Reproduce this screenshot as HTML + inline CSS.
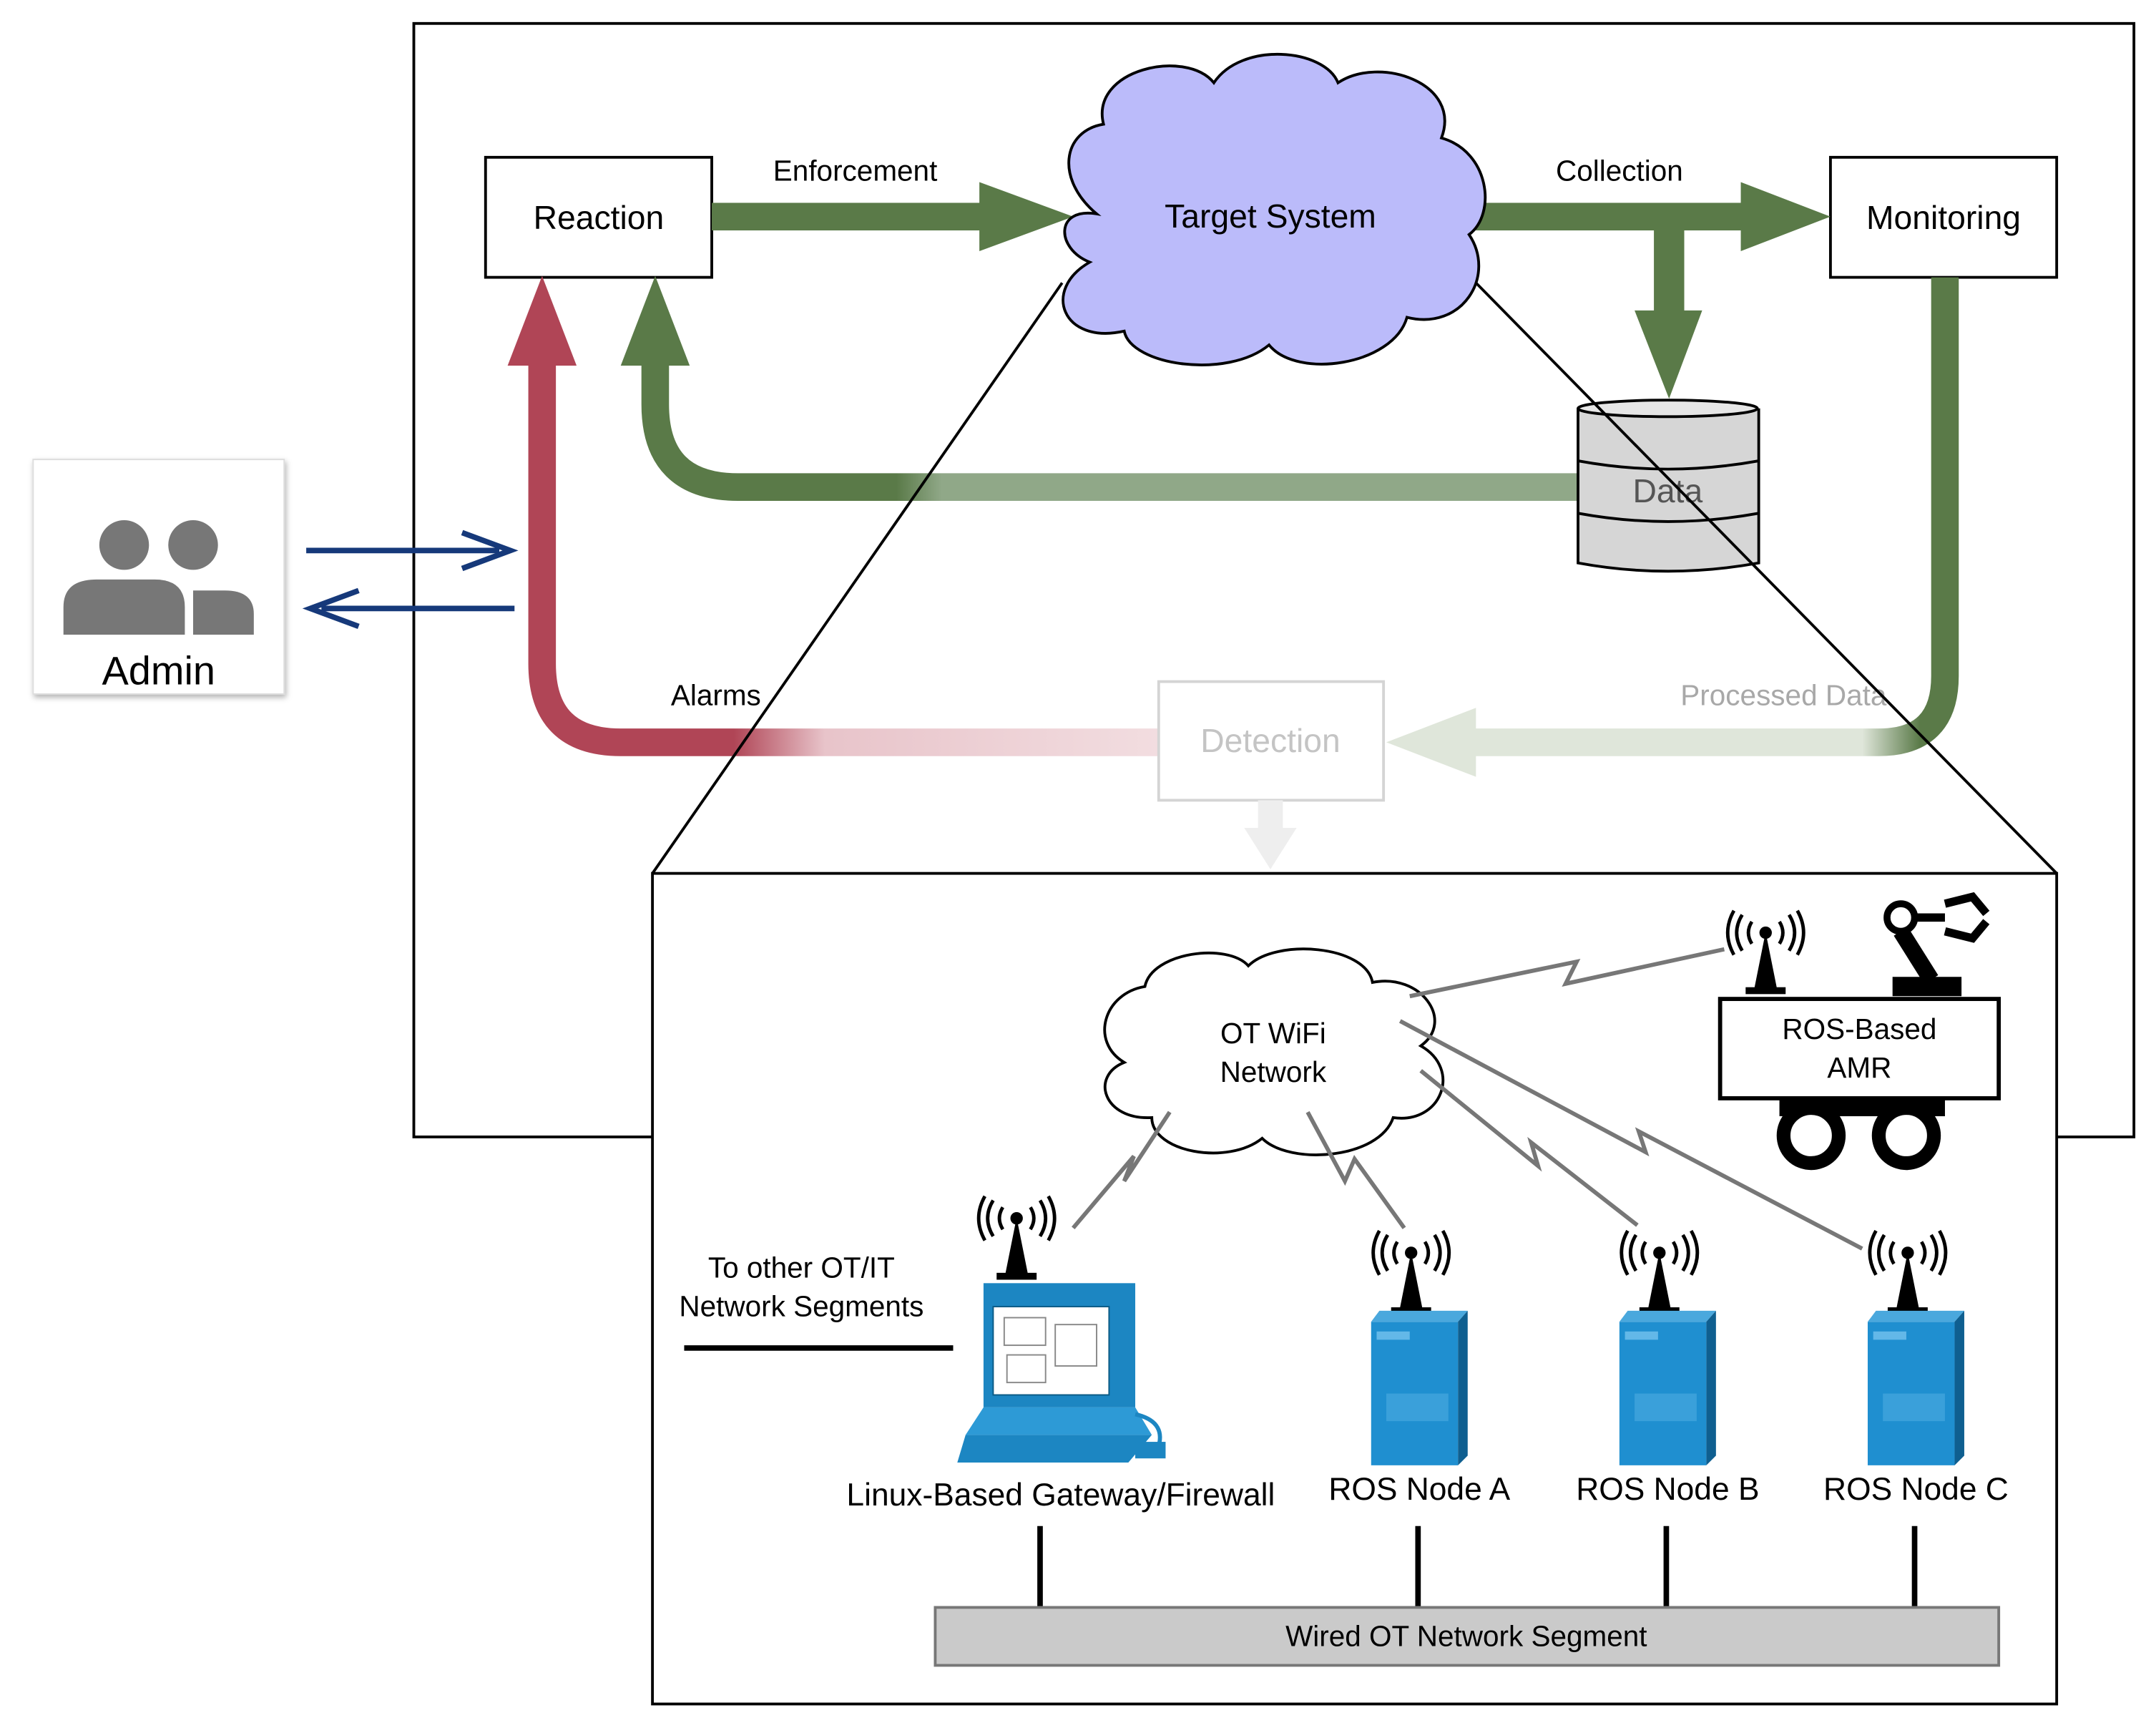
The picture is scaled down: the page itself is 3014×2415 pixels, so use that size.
<!DOCTYPE html>
<html><head><meta charset="utf-8"><style>html,body{margin:0;padding:0;background:#fff}svg{display:block}text{font-family:"Liberation Sans",sans-serif}</style></head><body>
<svg width="3014" height="2415" viewBox="0 0 1563 1252.4" preserveAspectRatio="none" xmlns="http://www.w3.org/2000/svg">
<defs>
<linearGradient id="gret" x1="485" y1="0" x2="1144" y2="0" gradientUnits="userSpaceOnUse"><stop offset="0.25" stop-color="#5a7a48"/><stop offset="0.3" stop-color="#90a888"/><stop offset="1" stop-color="#90a888"/></linearGradient>
<linearGradient id="gred" x1="400" y1="0" x2="840" y2="0" gradientUnits="userSpaceOnUse"><stop offset="0.3" stop-color="#b04556"/><stop offset="0.45" stop-color="#e8c4ca"/><stop offset="1" stop-color="#f2dde0"/></linearGradient>
<linearGradient id="gmon" x1="1070" y1="0" x2="1420" y2="0" gradientUnits="userSpaceOnUse"><stop offset="0" stop-color="#dfe6da"/><stop offset="0.8" stop-color="#dfe6da"/><stop offset="0.92" stop-color="#5a7a48"/></linearGradient>
<filter id="sh"><feDropShadow dx="1" dy="2" stdDeviation="2" flood-opacity="0.3"/></filter>
</defs>
<rect x="300" y="17" width="1247" height="807" fill="#fff" stroke="#000" stroke-width="2"/>
<!-- Reaction / Monitoring -->
<rect x="352" y="114" width="164" height="87" fill="#fff" stroke="#000" stroke-width="2"/>
<text x="434" y="166" font-size="24" text-anchor="middle">Reaction</text>
<rect x="1327" y="114" width="164" height="87" fill="#fff" stroke="#000" stroke-width="2"/>
<text x="1409" y="166" font-size="24" text-anchor="middle">Monitoring</text>
<!-- return green path -->
<path d="M1144 353 H535 Q475 353 475 293 V262" fill="none" stroke="url(#gret)" stroke-width="20"/>
<polygon points="450,265 500,265 475,200" fill="#5a7a48"/>
<!-- red path -->
<path d="M840 538 H450 Q393 538 393 481 V262" fill="none" stroke="url(#gred)" stroke-width="20"/>
<polygon points="368,265 418,265 393,200" fill="#b04556"/>
<!-- monitoring path -->
<path d="M1410 201 V490 Q1410 538 1362 538 H1068" fill="none" stroke="url(#gmon)" stroke-width="20"/>
<polygon points="1070,513 1070,563 1005,538" fill="#dfe6da"/>
<!-- Detection -->
<rect x="840" y="494" width="163" height="86" fill="#fff" stroke="#d4d4d4" stroke-width="2"/>
<text x="921" y="545" font-size="24" text-anchor="middle" fill="#c4c4c4">Detection</text>
<path d="M912 580 V600 H902 L921 630 L940 600 H930 V580Z" fill="#eeeeee"/>
<!-- enforcement / collection -->
<rect x="516" y="147" width="200" height="20" fill="#5a7a48"/>
<polygon points="710,132 710,182 778,157" fill="#5a7a48"/>
<rect x="1060" y="147" width="206" height="20" fill="#5a7a48"/>
<polygon points="1262,132 1262,182 1327,157" fill="#5a7a48"/>
<rect x="1199" y="157" width="22" height="72" fill="#5a7a48"/>
<polygon points="1185,225 1234,225 1210,289" fill="#5a7a48"/>
<text x="620" y="131" font-size="21" text-anchor="middle">Enforcement</text>
<text x="1174" y="131" font-size="21" text-anchor="middle">Collection</text>
<text x="519" y="511" font-size="21" text-anchor="middle">Alarms</text>
<text x="1293" y="511" font-size="21" text-anchor="middle" fill="#a8a8a8">Processed Data</text>
<!-- target cloud -->
<path d="M800 90 C790 50 860 35 880 60 C900 30 960 35 970 60 C1000 40 1060 60 1045 100 C1080 110 1085 155 1065 170 C1085 200 1060 240 1020 230 C1010 265 940 275 920 250 C890 275 820 265 815 240 C770 250 755 210 790 190 C765 180 765 150 795 155 C765 130 770 95 800 90Z" fill="#bbbbfa" stroke="#000" stroke-width="2"/>
<text x="921" y="165" font-size="24" text-anchor="middle">Target System</text>
<!-- data cylinder -->
<path d="M1144 296 V408 Q1209 420 1275 408 V296" fill="#d6d6d6" stroke="#000" stroke-width="2"/>
<ellipse cx="1209" cy="296" rx="65" ry="6" fill="#e6e6e6" stroke="#000" stroke-width="2"/>
<path d="M1144 334 Q1209 346 1275 334 M1144 372 Q1209 384 1275 372" fill="none" stroke="#000" stroke-width="2"/>
<text x="1209" y="364" font-size="24" text-anchor="middle" fill="#555">Data</text>
<!-- zoom lines -->
<line x1="770" y1="205" x2="473" y2="633" stroke="#000" stroke-width="2"/>
<line x1="1070" y1="205" x2="1491" y2="633" stroke="#000" stroke-width="2"/>
<!-- Admin -->
<rect x="24" y="333" width="182" height="170" fill="#fff" stroke="#ddd" filter="url(#sh)"/>
<circle cx="90" cy="395" r="18" fill="#777"/><circle cx="140" cy="395" r="18" fill="#777"/>
<path d="M46 460 V440 Q46 420 70 420 H112 Q134 420 134 440 V460Z" fill="#777"/>
<path d="M140 460 V428 H163 Q184 428 184 445 V460Z" fill="#777"/>
<text x="115" y="496" font-size="29" text-anchor="middle">Admin</text>
<line x1="222" y1="399" x2="362" y2="399" stroke="#16397a" stroke-width="4"/>
<path d="M335 386 L370 399 L335 412" fill="none" stroke="#16397a" stroke-width="4"/>
<line x1="233" y1="441" x2="373" y2="441" stroke="#16397a" stroke-width="4"/>
<path d="M260 428 L225 441 L260 454" fill="none" stroke="#16397a" stroke-width="4"/>
<!-- lower box -->
<rect x="473" y="633" width="1018" height="602" fill="#fff" stroke="#000" stroke-width="2"/>
<!-- wifi cloud -->
<path d="M830 715 C835 690 890 683 905 700 C925 680 990 685 995 712 C1030 705 1055 740 1030 758 C1060 775 1045 815 1010 810 C1000 840 935 845 915 825 C890 845 835 835 835 810 C800 812 790 780 815 770 C790 755 800 720 830 715Z" fill="#fff" stroke="#000" stroke-width="2"/>
<text x="923" y="756" font-size="21" text-anchor="middle">OT WiFi</text>
<text x="923" y="784" font-size="21" text-anchor="middle">Network</text>
<g stroke="#777" stroke-width="3" fill="none">
<polyline points="1022,722 1143,697 1135,713 1250,688"/>
<polyline points="848,806 815,856 822,838 778,890"/>
<polyline points="948,806 975,856 982,840 1018,890"/>
<polyline points="1030,776 1115,845 1110,828 1187,888"/>
<polyline points="1015,740 1193,835 1188,820 1350,905"/>
</g>
<!-- antennas -->
<g id="ant" fill="#000" stroke="#000">
<path d="M1280 678 L1272 718 H1288Z"/><rect x="1266" y="716" width="28" height="4"/>
<circle cx="1280" cy="676" r="4"/>
<path d="M1270 668 Q1265 676 1270 684 M1290 668 Q1295 676 1290 684 M1263 663 Q1255 676 1263 689 M1297 663 Q1305 676 1297 689 M1257 660 Q1248 676 1257 692 M1303 660 Q1312 676 1303 692" fill="none" stroke-width="2.5"/>
</g>
<use href="#ant" x="-543" y="207"/>
<use href="#ant" x="-257" y="232"/>
<use href="#ant" x="-77" y="232"/>
<use href="#ant" x="103" y="232"/>
<!-- robot arm -->
<rect x="1362" y="648" width="80" height="74" fill="#fff"/>
<circle cx="1378" cy="665" r="10" fill="none" stroke="#000" stroke-width="5"/>
<path d="M1378 675 L1400 710" stroke="#000" stroke-width="12"/>
<rect x="1372" y="708" width="50" height="14" fill="#000"/>
<path d="M1388 665 H1410 M1410 655 L1430 650 L1440 662 M1410 675 L1430 680 L1440 668" stroke="#000" stroke-width="6" fill="none"/>
<rect x="1247" y="724" width="202" height="72" fill="#fff" stroke="#000" stroke-width="3"/>
<text x="1348" y="753" font-size="21" text-anchor="middle">ROS-Based</text>
<text x="1348" y="781" font-size="21" text-anchor="middle">AMR</text>
<rect x="1290" y="797" width="120" height="12" fill="#000"/>
<circle cx="1313" cy="823" r="20" fill="#fff" stroke="#000" stroke-width="10"/>
<circle cx="1382" cy="823" r="20" fill="#fff" stroke="#000" stroke-width="10"/>
<!-- computer -->
<rect x="713" y="930" width="110" height="90" fill="#1c86c2"/>
<rect x="720" y="947" width="84" height="64" fill="#fff" stroke="#0b5a85"/>
<g stroke="#888" stroke-width="1" fill="none"><rect x="728" y="955" width="30" height="20"/><rect x="765" y="960" width="30" height="30"/><rect x="730" y="982" width="28" height="20"/></g>
<polygon points="713,1020 823,1020 835,1040 700,1040" fill="#2d9ad6"/>
<polygon points="700,1040 835,1040 818,1060 694,1060" fill="#1c86c2"/>
<path d="M823 1025 Q845 1030 840 1048" stroke="#1c86c2" stroke-width="3" fill="none"/>
<rect x="823" y="1045" width="22" height="12" fill="#1c86c2"/>
<!-- servers -->
<g id="srv"><polygon points="994,958 1057,958 1064,950 1000,950" fill="#4aa8dd"/><rect x="994" y="958" width="63" height="104" fill="#1f8fd0"/><polygon points="1057,958 1064,950 1064,1055 1057,1062" fill="#0f5f90"/><rect x="998" y="965" width="24" height="6" fill="#63b8e8"/><rect x="1005" y="1010" width="45" height="20" fill="#3aa0da"/></g>
<use href="#srv" x="180" y="0"/>
<use href="#srv" x="360" y="0"/>
<text x="581" y="926" font-size="21" text-anchor="middle">To other OT/IT</text>
<text x="581" y="954" font-size="21" text-anchor="middle">Network Segments</text>
<line x1="496" y1="977" x2="691" y2="977" stroke="#000" stroke-width="4"/>
<text x="769" y="1091" font-size="23" text-anchor="middle">Linux-Based Gateway/Firewall</text>
<text x="1029" y="1087" font-size="23" text-anchor="middle">ROS Node A</text>
<text x="1209" y="1087" font-size="23" text-anchor="middle">ROS Node B</text>
<text x="1389" y="1087" font-size="23" text-anchor="middle">ROS Node C</text>
<g stroke="#000" stroke-width="4"><line x1="754" y1="1106" x2="754" y2="1165"/><line x1="1028" y1="1106" x2="1028" y2="1165"/><line x1="1208" y1="1106" x2="1208" y2="1165"/><line x1="1388" y1="1106" x2="1388" y2="1165"/></g>
<rect x="678" y="1165" width="771" height="42" fill="#cacaca" stroke="#777" stroke-width="2"/>
<text x="1063" y="1193" font-size="21" text-anchor="middle">Wired OT Network Segment</text>
</svg>
</body></html>
